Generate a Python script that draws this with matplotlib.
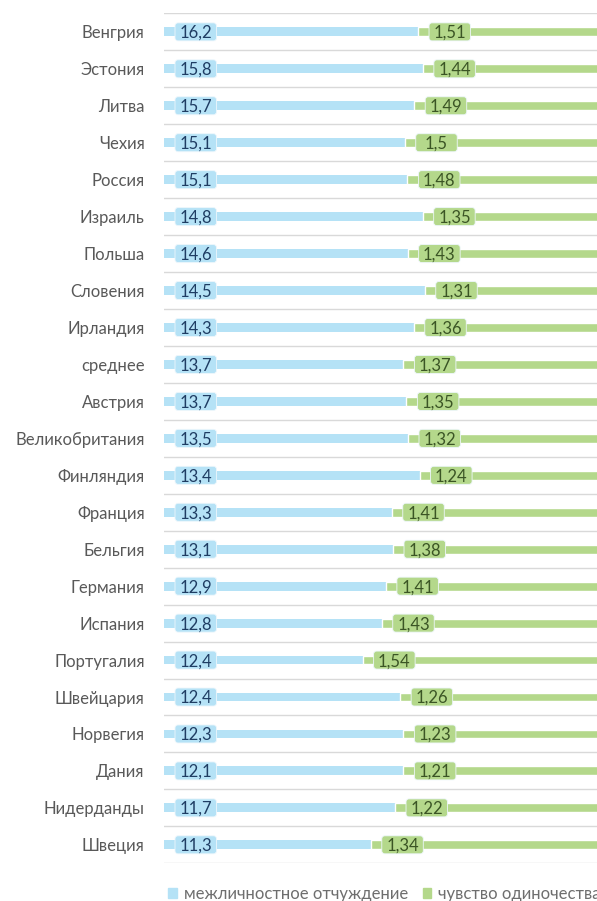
import numpy as np
import matplotlib
matplotlib.use("Agg")
from matplotlib import pyplot as plt
from matplotlib.patches import FancyBboxPatch, Patch

plt.rcParams['font.family'] = ['Lato', 'DejaVu Sans']

countries = ['Венгрия', 'Эстония', 'Литва', 'Чехия', 'Россия', 'Израиль', 'Польша',
             'Словения', 'Ирландия', 'среднее', 'Австрия', 'Великобритания', 'Финляндия',
             'Франция', 'Бельгия', 'Германия', 'Испания', 'Португалия', 'Швейцария',
             'Норвегия', 'Дания', 'Нидерданды', 'Швеция']
otchuzhdenie = [16.2, 15.8, 15.7, 15.1, 15.1, 14.8, 14.6, 14.5, 14.3, 13.7, 13.7, 13.5, 13.4,
                13.3, 13.1, 12.9, 12.8, 12.4, 12.4, 12.3, 12.1, 11.7, 11.3]
odinochestvo = [1.51, 1.44, 1.49, 1.5, 1.48, 1.35, 1.43, 1.31, 1.36, 1.37, 1.35, 1.32, 1.24,
                1.41, 1.38, 1.41, 1.43, 1.54, 1.26, 1.23, 1.21, 1.22, 1.34]
series_names = ['межличностное отчуждение', 'чувство одиночества']

# 100% stacked bar; second series is on a different scale in the source table
scale = 56
a = np.array(otchuzhdenie)
b = np.array(odinochestvo) * scale
tot = a + b
blue_pct = a / tot * 100
green_pct = b / tot * 100

c_blue = '#b5e2f6'
c_green = '#b4d88b'
t_blue = '#1f3d63'
t_green = '#3b5525'

W, H = 597, 901
fig = plt.figure(figsize=(W / 100, H / 100), dpi=100)
ax = fig.add_axes([164 / W, 1 - 863.3 / H, 433 / W, (863.3 - 13.4) / H])

y = np.arange(len(countries))
bh = 0.24
ax.barh(y, blue_pct, height=bh, color=c_blue, linewidth=0)
ax.barh(y, green_pct, left=blue_pct, height=bh, color=c_green,
        edgecolor='white', linewidth=1.0)

xmax = 433 / 1580 * 100
ax.set_xlim(0, xmax)
ax.set_ylim(len(countries) - 0.5, -0.5)

# pixel -> data conversion
px_x = xmax / 433
px_y = 1 / 36.95
bw, bhh = 41.5 * px_x, 18 * px_y
off = 11 * px_x

def label(x0, yy, txt, fc, tc):
    box = FancyBboxPatch((x0 + off, yy - bhh / 2), bw, bhh,
                         boxstyle='round,pad=0,rounding_size=%f' % (3 * px_x),
                         mutation_aspect=px_y / px_x,
                         fc=fc, ec='#eef7fc', lw=0.6, zorder=3)
    ax.add_patch(box)
    ax.text(x0 + off + bw / 2, yy + 0.03, txt, ha='center', va='center',
            color=tc, fontsize=12, zorder=4)

for i in range(len(countries)):
    label(0, y[i], f'{otchuzhdenie[i]:g}'.replace('.', ','), c_blue, t_blue)
    label(blue_pct[i], y[i], f'{odinochestvo[i]:g}'.replace('.', ','), c_green, t_green)

for g in np.arange(-0.5, len(countries), 1):
    ax.axhline(g, color='#d9d9d9', lw=1, zorder=0)

ax.set_yticks(y)
ax.set_yticklabels(countries, color='#595959', fontsize=12)
ax.tick_params(axis='y', length=0, pad=14)
ax.set_xticks([])
for s in ax.spines.values():
    s.set_visible(False)

# legend is cut at the right edge, same as the source picture
handles = [Patch(color=c_blue), Patch(color=c_green)]
fig.legend(handles, series_names, loc='center left', bbox_to_anchor=(160 / W, 1 - 894 / H),
           ncol=2, frameon=False, fontsize=12, labelcolor='#6e6e6e',
           handlelength=0.5, handleheight=0.5, handletextpad=0.45, columnspacing=0.85,
           borderpad=0)

fig.savefig('out.png', dpi=100)
